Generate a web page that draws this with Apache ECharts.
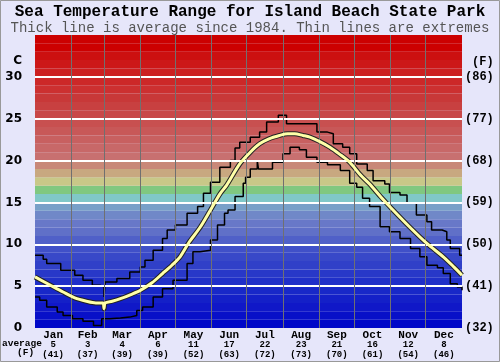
<!DOCTYPE html>
<html>
<head>
<meta charset="utf-8">
<script src="https://cdn.jsdelivr.net/npm/echarts@6/dist/echarts.min.js"></script>
<style>
html, body { margin: 0; padding: 0; background: #e6e6fa; }
#chart { width: 500px; height: 362px; }
</style>
</head>
<body>
<div id="chart"></div>
<script>
// month labels under the plot
const months = ['Jan', 'Feb', 'Mar', 'Apr', 'May', 'Jun', 'Jul', 'Aug', 'Sep', 'Oct', 'Nov', 'Dec']
const monthDays = [31, 28, 31, 30, 31, 30, 31, 31, 30, 31, 30, 31]
const avgC = [5, 3, 4, 6, 11, 17, 22, 23, 21, 16, 12, 8]
const avgF = [41, 37, 39, 39, 52, 63, 72, 73, 70, 61, 54, 46]
const fTicks = ['(32)', '(41)', '(50)', '(59)', '(68)', '(77)', '(86)']

// [day of year, deg C]
const maxLine = [[0, 8.7], [7, 8.2], [10, 7.7], [22, 6.9], [34, 6.3], [41, 5.7], [49, 5.1], [56, 4.9], [59, 3.7], [60, 5.5],
  [70, 5.9], [81, 6.7], [90, 7.3], [94, 8.1], [101, 9.3], [109, 10.7], [113, 11.7], [120, 12.3], [130, 13.7], [139, 14.5],
  [144, 16.1], [150, 17.4], [158, 19.2], [167, 20.0], [171, 21.5], [175, 22.2], [184, 22.8], [192, 23.4], [198, 24.6],
  [208, 25.4], [215, 24.4], [241, 23.4], [250, 23.2], [255, 22.0], [263, 21.6], [269, 20.8], [275, 19.6], [284, 18.8],
  [289, 17.6], [299, 17.2], [303, 16.2], [312, 15.9], [318, 14.9], [326, 13.5], [335, 12.7], [339, 11.7], [348, 11.5],
  [352, 10.5], [355, 9.5], [363, 8.7], [365, 8.7]]
const minLine = [[0, 3.7], [4, 3.3], [10, 2.5], [19, 1.9], [24, 1.5], [32, 1.1], [41, 0.8], [50, 0.3], [57, 1.1], [64, 1.2],
  [73, 1.3], [81, 1.5], [87, 2.1], [92, 2.5], [101, 3.7], [109, 4.7], [118, 5.7], [130, 7.7], [135, 9.1], [141, 9.3],
  [150, 10.5], [156, 12.3], [162, 13.7], [165, 14.1], [171, 15.7], [178, 17.3], [180, 18.0], [184, 19.0], [190, 20.0],
  [191, 19.0], [203, 19.8], [212, 20.8], [218, 21.6], [226, 21.3], [232, 20.4], [241, 19.8], [250, 19.5], [261, 18.8],
  [269, 17.3], [275, 16.8], [280, 15.5], [286, 14.5], [295, 12.1], [303, 11.5], [312, 10.7], [321, 9.5], [329, 8.5],
  [335, 7.5], [344, 7.2], [349, 6.5], [355, 5.3], [361, 4.9], [365, 4.5]]
const avgLine = [[0, 6.1], [12, 5.2], [24, 4.3], [34, 3.6], [44, 3.2], [52, 3.0], [58, 3.0], [59, 2.3], [60, 3.0], [66, 3.2],
  [73, 3.5], [82, 4.0], [90, 4.5], [100, 5.4], [109, 6.5], [117, 7.5], [124, 8.5], [132, 10.3], [141, 12.0], [150, 14.1],
  [158, 16.0], [164, 17.1], [175, 19.6], [184, 21.0], [192, 22.0], [200, 22.6], [209, 23.0], [216, 23.2], [222, 23.2],
  [229, 23.0], [235, 22.8], [243, 22.3], [252, 21.6], [260, 20.8], [269, 19.8], [278, 18.3], [286, 17.2], [296, 15.6],
  [306, 14.1], [320, 12.1], [335, 10.1], [349, 8.5], [358, 7.3], [365, 6.3]]

// colour of each 1 degree band, from 0 upward
const bandColors = [
  '#0008c8', '#0810c8', '#1018c8', '#1420c8', '#1828c8', '#2030c8', '#2838c8', '#3040c8', '#3848c8', '#4050c8',
  '#5060c8', '#6070c8', '#6878c8', '#7088c8', '#78a0c8', '#80c8c8', '#80c880', '#c8c888', '#c8a880', '#c88878',
  '#c87070', '#c86868', '#c86060', '#c85858', '#c85050', '#c84848', '#c84040', '#c83838', '#cc3030', '#cc2828',
  '#cc2020', '#cc1818', '#cc1010', '#cc0000', '#cc0000'
]

const monthStart = []
const monthMid = []
let acc = 0
monthDays.forEach(d => {
  monthStart.push(acc)
  monthMid.push(acc + d / 2)
  acc += d
})

const bands = bandColors.map((c, i) => [{ yAxis: i, itemStyle: { color: c } }, { yAxis: i + 1 }])
const gridLines = [5, 10, 15, 20, 25, 30].map(v => ({ yAxis: v, lineStyle: { color: '#ffffff', width: 2, type: 'solid' } }))
const monthLines = monthStart.slice(1).map(d => ({ xAxis: d, lineStyle: { color: '#707070', width: 1, type: 'solid' } }))

const mono = 'Liberation Mono'
const chart = echarts.init(document.getElementById('chart'))

chart.setOption({
  animation: false,
  backgroundColor: '#e6e6fa',
  title: [
    {
      text: 'Sea Temperature Range for Island Beach State Park',
      left: 'center', top: 4, padding: 0,
      textStyle: { fontFamily: mono, fontWeight: 'bold', fontSize: 16, color: '#000' }
    },
    {
      text: 'Thick line is average since 1984. Thin lines are extremes',
      left: 'center', top: 21, padding: 0,
      textStyle: { fontFamily: mono, fontWeight: 'normal', fontSize: 14, color: '#555' }
    }
  ],
  grid: { left: 35, right: 38, top: 35, bottom: 34 },
  xAxis: {
    type: 'value', min: 0, max: 365,
    axisLine: { show: false }, axisTick: { show: false }, splitLine: { show: false },
    axisLabel: {
      customValues: monthMid,
      margin: 2,
      formatter: v => {
        const i = monthMid.findIndex(m => Math.abs(m - v) < 0.01)
        return '{m|' + months[i] + '}\n{a|' + avgC[i] + '}\n{a|(' + avgF[i] + ')}'
      },
      rich: {
        m: { fontFamily: mono, fontWeight: 'bold', fontSize: 11, lineHeight: 10, color: '#000' },
        a: { fontFamily: mono, fontWeight: 'bold', fontSize: 9, lineHeight: 9.5, color: '#000' }
      }
    }
  },
  yAxis: [
    {
      type: 'value', min: 0, max: 35, interval: 5,
      axisLine: { show: false }, axisTick: { show: false }, splitLine: { show: false },
      axisLabel: {
        margin: 13, fontFamily: 'DejaVu Sans', fontWeight: 'bold', fontSize: 12, color: '#000',
        formatter: v => (v >= 35 ? '' : String(v))
      }
    },
    {
      type: 'value', min: 0, max: 35, interval: 5, position: 'right',
      axisLine: { show: false }, axisTick: { show: false }, splitLine: { show: false },
      axisLabel: {
        margin: 3, fontFamily: mono, fontWeight: 'bold', fontSize: 12, color: '#000',
        formatter: v => fTicks[v / 5] || ''
      }
    }
  ],
  graphic: [
    { type: 'rect', shape: { x: 0.5, y: 0.5, width: 499, height: 361 }, style: { fill: 'none', stroke: '#999', lineWidth: 1 }, z: 100 },
    { type: 'text', right: 478, top: 55, style: { text: 'C', font: 'bold 12px "DejaVu Sans"', fill: '#000' } },
    { type: 'text', left: 472, top: 56, style: { text: '(F)', font: 'bold 12px "Liberation Mono"', fill: '#000' } },
    { type: 'text', left: 2, top: 339, style: { text: 'average', font: 'bold 9.5px "Liberation Mono"', fill: '#000' } },
    { type: 'text', left: 17, top: 348, style: { text: '(F)', font: 'bold 9.5px "Liberation Mono"', fill: '#000' } }
  ],
  series: [
    {
      type: 'line', data: [], z: 1, silent: true,
      markArea: { silent: true, data: bands }
    },
    {
      type: 'line', data: [], z: 2, silent: true,
      markLine: { silent: true, symbol: 'none', label: { show: false }, data: gridLines.concat(monthLines) }
    },
    {
      name: 'max', type: 'line', data: maxLine, step: 'end', showSymbol: false, z: 3,
      lineStyle: { color: '#000', width: 1.5 }
    },
    {
      name: 'min', type: 'line', data: minLine, step: 'end', showSymbol: false, z: 3,
      lineStyle: { color: '#000', width: 1.5 }
    },
    {
      name: 'avgOutline', type: 'line', data: avgLine, smooth: 0.3, showSymbol: false, z: 4,
      lineStyle: { color: '#222', width: 5 }
    },
    {
      name: 'avg', type: 'line', data: avgLine, smooth: 0.3, showSymbol: false, z: 5,
      lineStyle: { color: '#ffffa8', width: 3 }
    }
  ]
})
</script>
</body>
</html>
